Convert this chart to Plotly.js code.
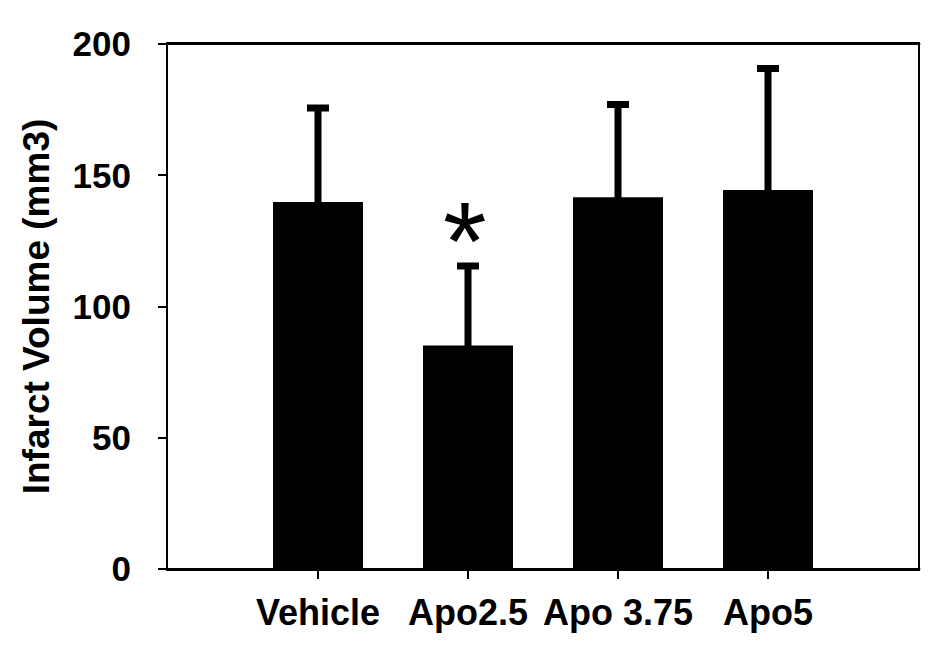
<!DOCTYPE html>
<html>
<head>
<meta charset="utf-8">
<script src="https://cdn.plot.ly/plotly-3.0.1.min.js"></script>
<style>
  html, body { margin: 0; padding: 0; background: #fff; }
  #chart { width: 940px; height: 655px; }
</style>
</head>
<body>
<div id="chart"></div>
<script>
// Values
const groups = ['Vehicle', 'Apo2.5', 'Apo 3.75', 'Apo5'];
const infarctVolume = [139.8, 85.1, 141.6, 144.4];
const sdUpper = [35.8, 30.3, 35.4, 46.3];
const significant = ['Apo2.5'];

const FONT = 'Liberation Sans, Arial, sans-serif';

const bars = {
    type: 'bar',
    x: groups,
    y: infarctVolume,
    width: 0.6,
    marker: { color: '#000000', line: { width: 0 } },
    // symmetric so the lower half hides inside the black bar
    error_y: {
        type: 'data',
        array: sdUpper,
        color: '#000000',
        thickness: 7,
        width: 11
    },
    hoverinfo: 'skip'
};

// asterisk above the significant group(s)
const annotations = significant.map(g => {
    const i = groups.indexOf(g);
    return {
        x: g,
        y: infarctVolume[i] + sdUpper[i],
        xref: 'x',
        yref: 'y',
        text: '*',
        showarrow: false,
        xanchor: 'center',
        yanchor: 'bottom',
        yshift: -40,
        xshift: -3,
        font: { family: FONT, size: 112, color: '#000000' }
    };
});

const axisCommon = {
    showline: true,
    linecolor: '#000000',
    linewidth: 2,
    mirror: true,
    showgrid: false,
    zeroline: false,
    ticks: 'outside',
    ticklen: 8,
    tickwidth: 2,
    tickcolor: '#000000'
};

// SigmaPlot-style frame: horizontal lines run a little past the side axes
const frameLines = [0, 1].map(yy => ({
    type: 'line', xref: 'paper', yref: 'paper',
    x0: -0.0107, x1: 1.003, y0: yy, y1: yy,
    line: { color: '#000000', width: 2 }
}));

const layout = {
    width: 940,
    height: 655,
    margin: { l: 168, r: 22, t: 44, b: 86 },
    paper_bgcolor: '#ffffff',
    plot_bgcolor: '#ffffff',
    showlegend: false,
    font: { family: FONT, color: '#000000' },
    xaxis: Object.assign({}, axisCommon, {
        type: 'category',
        range: [-1, 4],
        ticklabelstandoff: 3,
        tickfont: { family: FONT, size: 36, color: '#000000', weight: 'bold' }
    }),
    yaxis: Object.assign({}, axisCommon, {
        range: [0, 200],
        tickvals: [0, 50, 100, 150, 200],
        ticklabelstandoff: 20,
        tickfont: { family: FONT, size: 35, color: '#000000', weight: 'bold' },
        title: {
            text: 'Infarct Volume (mm3)',
            font: { family: FONT, size: 37, color: '#000000', weight: 'bold' },
            standoff: 12
        }
    }),
    shapes: frameLines,
    annotations: annotations
};

Plotly.newPlot('chart', [bars], layout, { staticPlot: true, displayModeBar: false });
</script>
</body>
</html>
